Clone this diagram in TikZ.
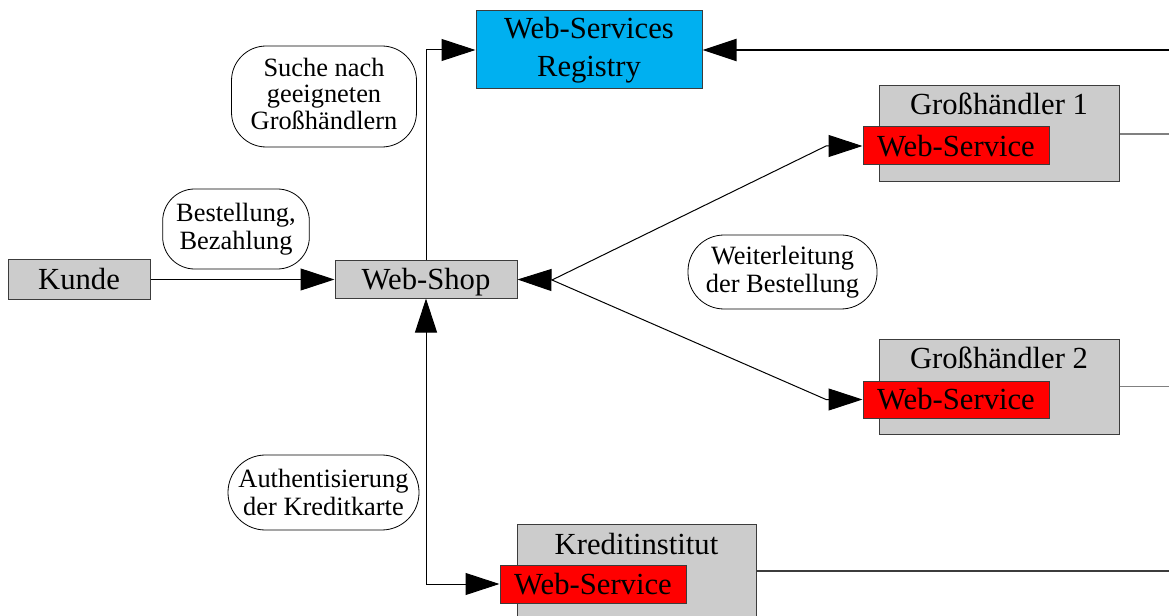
\documentclass[tikz,border=0pt]{standalone}
\usepackage{fontspec}
\setmainfont{Liberation Serif}
\usetikzlibrary{arrows.meta}
\definecolor{boxgray}{RGB}{204,204,204}
\definecolor{regblue}{RGB}{0,176,240}
\definecolor{edgegray}{RGB}{60,60,60}
\definecolor{sidegray}{RGB}{128,128,128}
\begin{document}
\begin{tikzpicture}[x=0.75pt,y=-0.75pt,
  bigfont/.style={font=\fontsize{23}{28.5}\selectfont},
  graybox/.style={draw=edgegray, fill=boxgray, line width=0.75pt, inner sep=0pt, bigfont},
  onebox/.style={graybox, text height=15.2pt, text depth=0pt},
  wsbox/.style={draw=edgegray, fill=red, line width=0.75pt, inner sep=0pt, bigfont, text height=15.2pt, text depth=0pt},
  regbox/.style={draw=edgegray, fill=regblue, line width=0.75pt, inner sep=0pt, align=center, bigfont},
  titletext/.style={anchor=base, inner sep=0pt, bigfont},
  lab/.style={draw=black, fill=white, line width=0.6pt, inner sep=0pt, align=center, font=\fontsize{19.8}{21}\selectfont},
  arr/.style={-{Triangle[length=25.5pt,width=16.5pt]}, line width=0.75pt, draw=black},
  darr/.style={{Triangle[length=25.5pt,width=16.5pt]}-{Triangle[length=25.5pt,width=16.5pt]}, line width=0.75pt, draw=black},
  sideline/.style={draw=sidegray, line width=1.2pt}
]
\useasboundingbox (0,0) rectangle (1169,616);
\clip (0,0) rectangle (1169,616);

% main boxes
\node[onebox, minimum width=106.5pt, minimum height=29.25pt] (kunde) at (79,279.5) {Kunde};
\node[onebox, minimum width=136.5pt, minimum height=27.75pt] (shop) at (426,279.5) {Web-Shop};
\node[regbox, minimum width=169.5pt, minimum height=58.5pt] (reg) at (589,50) {Web-Services\\Registry};

\node[graybox, minimum width=180pt, minimum height=72pt] (g1) at (999,134) {};
\node[titletext] (g1t) at (999,115) {Großhändler 1};
\node[wsbox, minimum width=139.5pt, minimum height=28.5pt] (g1ws) at (956,146) {Web-Service};

\node[graybox, minimum width=180pt, minimum height=71.25pt] (g2) at (999,386.5) {};
\node[titletext] (g2t) at (999,368) {Großhändler 2};
\node[wsbox, minimum width=139.5pt, minimum height=27.75pt] (g2ws) at (956,399.5) {Web-Service};

\node[graybox, minimum width=179.25pt, minimum height=70.5pt] (kr) at (636.5,571) {};
\node[titletext] (krt) at (636.5,554) {Kreditinstitut};
\node[wsbox, minimum width=139.5pt, minimum height=28.5pt] (krws) at (593,584) {Web-Service};

% labels
\node[lab, rounded corners=26pt, minimum width=138.75pt, minimum height=75.75pt, font=\fontsize{19.8}{20}\selectfont, text depth=4.4pt] (l1) at (324,96.5) {Suche nach\\geeigneten\\Großhändlern};
\node[lab, rounded corners=24pt, minimum width=110pt, minimum height=60pt] (l2) at (236,229) {Bestellung,\\Bezahlung};
\node[lab, rounded corners=27pt, minimum width=141.75pt, minimum height=55.5pt] (l3) at (782.5,272) {Weiterleitung\\der Bestellung};
\node[lab, rounded corners=28pt, minimum width=143.25pt, minimum height=56.25pt] (l4) at (323.5,492.5) {Authentisierung\\der Kreditkarte};

% helper coordinates
\coordinate (re) at (1169,0);
\coordinate (tr) at (1169,50);
\coordinate (j) at (552,280);
\coordinate (c1) at (826,146);
\coordinate (c2) at (826,399.5);

% connectors
\draw[arr] (kunde) -- (shop);
\draw[arr] (shop.north) |- (reg.west);
\draw[arr, line width=1.6pt] (tr) -- (reg.east);
\draw[arr] (j) -- (shop.east);
\draw[arr] (j) -- (c1) -- (g1ws.west);
\draw[arr] (j) -- (c2) -- (g2ws.west);
\draw[darr] (shop.south) |- (krws.west);
\draw[sideline] (g1.east) -- (g1.east -| re);
\draw[sideline] (g2.east) -- (g2.east -| re);
\draw[draw=edgegray, line width=0.9pt] (kr.east) -- (kr.east -| re);
\end{tikzpicture}
\end{document}
